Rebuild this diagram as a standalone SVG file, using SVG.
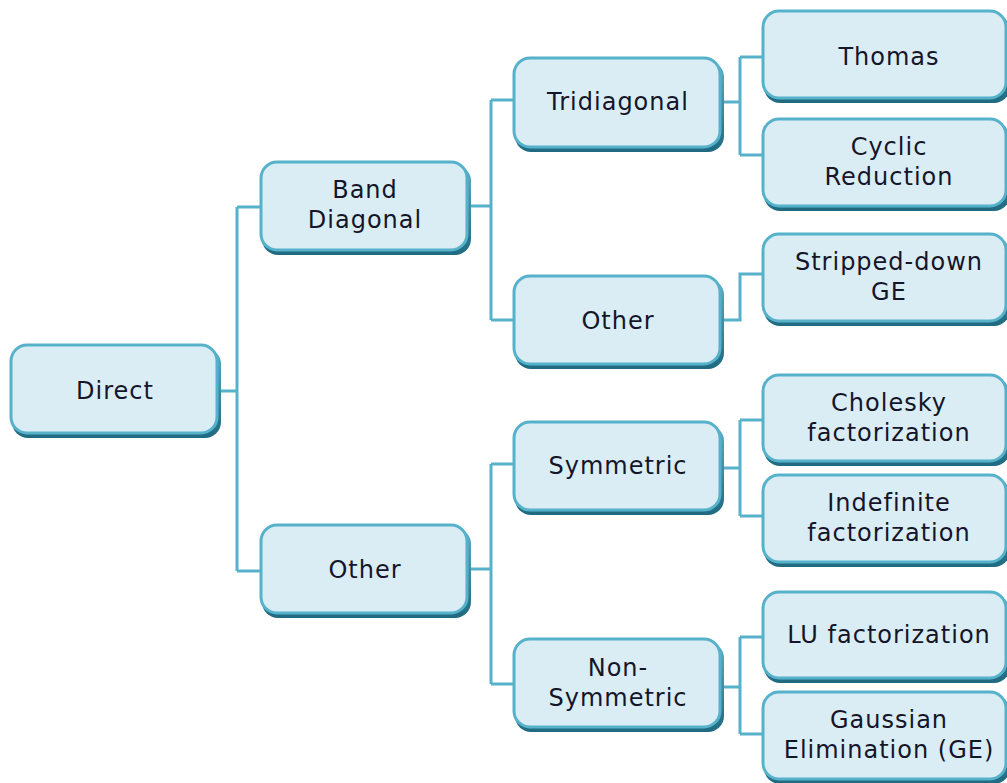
<svg xmlns="http://www.w3.org/2000/svg" width="1007" height="783" viewBox="0 0 1007 783">
<defs>
<linearGradient id="sh" x1="0" y1="0" x2="0" y2="1">
<stop offset="0" stop-color="#5aaec4"/>
<stop offset="1" stop-color="#1f6a80"/>
</linearGradient>
</defs>
<style>
.box{fill:#daedf4;stroke:#56b2cb;stroke-width:3}
.shadow{fill:url(#sh)}
.t{font-family:"DejaVu Sans","Verdana",sans-serif;font-size:24px;letter-spacing:1px;fill:#15152a;text-anchor:middle}
.c{fill:none;stroke:#56b2cb;stroke-width:3}
</style>
<rect width="1007" height="783" fill="#ffffff"/>
<g id="connectors">
<path class="c" d="M217 391H237M237 207V571M237 207H261M237 571H261"/>
<path class="c" d="M467 206H491M491 100V320M491 100H514M491 320H514"/>
<path class="c" d="M467 569H491M491 464V684M491 464H514M491 684H514"/>
<path class="c" d="M720 102H740M740 57V155M740 57H763M740 155H763"/>
<path class="c" d="M720 320H740V274H763"/>
<path class="c" d="M720 468H740M740 420V516M740 420H763M740 516H763"/>
<path class="c" d="M720 687H740M740 637V734M740 637H763M740 734H763"/>
</g>
<g id="direct"><rect class="shadow" x="12" y="348" width="209" height="90" rx="16"/><rect class="box" x="11" y="345" width="206" height="88" rx="16"/><text class="t" x="115" y="399">Direct</text></g>
<g id="band"><rect class="shadow" x="262" y="165" width="209" height="90" rx="16"/><rect class="box" x="261" y="162" width="206" height="88" rx="16"/><text class="t" x="365" y="198">Band</text><text class="t" x="365" y="228">Diagonal</text></g>
<g id="other2"><rect class="shadow" x="262" y="528" width="209" height="90" rx="16"/><rect class="box" x="261" y="525" width="206" height="88" rx="16"/><text class="t" x="365" y="578">Other</text></g>
<g id="tridiagonal"><rect class="shadow" x="515" y="61" width="209" height="91" rx="16"/><rect class="box" x="514" y="58" width="206" height="89" rx="16"/><text class="t" x="618" y="110">Tridiagonal</text></g>
<g id="other3"><rect class="shadow" x="515" y="279" width="209" height="90" rx="16"/><rect class="box" x="514" y="276" width="206" height="88" rx="16"/><text class="t" x="618" y="329">Other</text></g>
<g id="symmetric"><rect class="shadow" x="515" y="425" width="209" height="90" rx="16"/><rect class="box" x="514" y="422" width="206" height="88" rx="16"/><text class="t" x="618" y="474">Symmetric</text></g>
<g id="nonsymmetric"><rect class="shadow" x="515" y="642" width="209" height="90" rx="16"/><rect class="box" x="514" y="639" width="206" height="88" rx="16"/><text class="t" x="618" y="676">Non-</text><text class="t" x="618" y="706">Symmetric</text></g>
<g id="thomas"><rect class="shadow" x="764" y="14" width="246" height="89" rx="16"/><rect class="box" x="763" y="11" width="243" height="87" rx="16"/><text class="t" x="889" y="65">Thomas</text></g>
<g id="cyclic"><rect class="shadow" x="764" y="122" width="246" height="89" rx="16"/><rect class="box" x="763" y="119" width="243" height="87" rx="16"/><text class="t" x="889" y="155">Cyclic</text><text class="t" x="889" y="185">Reduction</text></g>
<g id="stripped"><rect class="shadow" x="764" y="237" width="246" height="89" rx="16"/><rect class="box" x="763" y="234" width="243" height="87" rx="16"/><text class="t" x="889" y="270">Stripped-down</text><text class="t" x="889" y="300">GE</text></g>
<g id="cholesky"><rect class="shadow" x="764" y="378" width="246" height="88" rx="16"/><rect class="box" x="763" y="375" width="243" height="86" rx="16"/><text class="t" x="889" y="411">Cholesky</text><text class="t" x="889" y="441">factorization</text></g>
<g id="indefinite"><rect class="shadow" x="764" y="478" width="246" height="89" rx="16"/><rect class="box" x="763" y="475" width="243" height="87" rx="16"/><text class="t" x="889" y="511">Indefinite</text><text class="t" x="889" y="541">factorization</text></g>
<g id="lu"><rect class="shadow" x="764" y="595" width="246" height="88" rx="16"/><rect class="box" x="763" y="592" width="243" height="86" rx="16"/><text class="t" x="889" y="643">LU factorization</text></g>
<g id="gaussian"><rect class="shadow" x="764" y="695" width="246" height="89" rx="16"/><rect class="box" x="763" y="692" width="243" height="87" rx="16"/><text class="t" x="889" y="728">Gaussian</text><text class="t" x="889" y="758">Elimination (GE)</text></g>
</svg>
